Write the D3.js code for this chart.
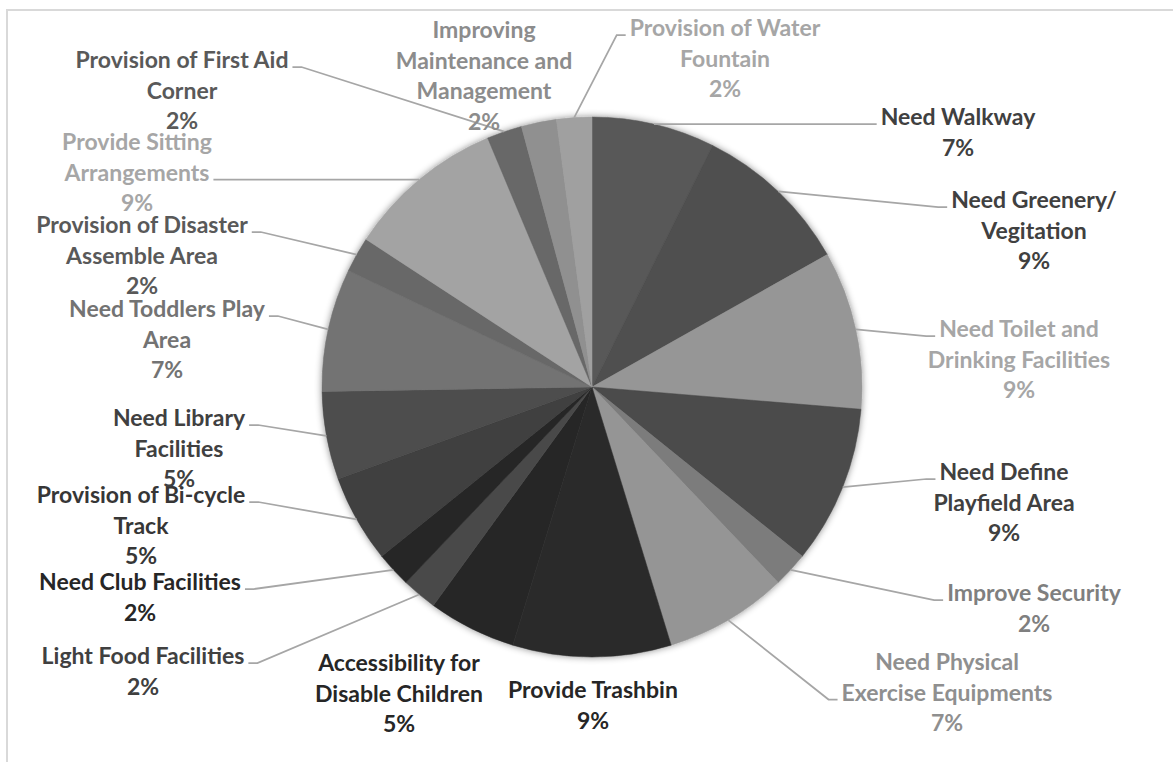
<!DOCTYPE html>
<html>
<head>
<meta charset="utf-8">
<script src="https://cdn.jsdelivr.net/npm/d3@7"></script>
<style>
  body { margin: 0; background: #fff; }
  svg { display: block; font-family: Lato, "Open Sans", sans-serif; font-weight: bold; }
</style>
</head>
<body>
<div id="chart"></div>
<script>
// categories, clockwise from 12 o'clock ("\n" = line break in the label)
var categories = [
  "Need Walkway", "Need Greenery/\nVegitation", "Need Toilet and\nDrinking Facilities",
  "Need Define\nPlayfield Area", "Improve Security", "Need Physical\nExercise Equipments",
  "Provide Trashbin", "Accessibility for\nDisable Children", "Light Food Facilities",
  "Need Club Facilities", "Provision of Bi-cycle\nTrack", "Need Library\nFacilities",
  "Need Toddlers Play\nArea", "Provision of Disaster\nAssemble Area", "Provide Sitting\nArrangements",
  "Provision of First Aid\nCorner", "Improving\nMaintenance and\nManagement", "Provision of Water\nFountain"
];
// percentages as printed on the chart
var percents = [7, 9, 9, 9, 2, 7, 9, 5, 2, 2, 5, 5, 7, 2, 9, 2, 2, 2];

var sliceColours = [
  "#595959", "#4f4f4f", "#969696", "#4b4b4b", "#7c7c7c", "#959595",
  "#2c2c2c", "#282828", "#4a4a4a", "#262626", "#3f3f3f", "#4d4d4d",
  "#737373", "#686868", "#a3a3a3", "#676767", "#909090", "#a0a0a0"
];
var labelColours = [
  "#404040", "#404040", "#a6a6a6", "#404040", "#7f7f7f", "#8f8f8f",
  "#262626", "#262626", "#404040", "#262626", "#363636", "#404040",
  "#737373", "#595959", "#a6a6a6", "#595959", "#8c8c8c", "#a6a6a6"
];
// label layout: centre x, middle of first line, line the leader joins (-1 none)
var labelX = [958, 1034, 1019, 1004, 1034, 947, 593, 399, 143, 140, 141, 179, 167, 142, 137, 182, 484, 725];
var labelY = [117, 200, 329, 472, 593, 662, 690, 663, 656, 582, 495, 418, 309, 225, 142, 60, 30, 28];
var leaderLine = [0, 0, 0, 0, 0, 1, -1, -1, 0, 0, 0, 0, 0, 0, 1, 0, -1, 0];

var width = 1173, height = 762;
var cx = 592, cy = 387, radius = 270;
var fontSize = 23, lineGap = 30.5;

var data = categories.map(function (c, i) {
  return { name: c, value: percents[i], i: i };
});

var svg = d3.select('#chart')
  .append('svg')
  .attr('width', width)
  .attr('height', height)
  .attr('viewBox', '0 0 ' + width + ' ' + height);

// chart area border (only top and left edges are inside the picture)
svg.append('rect')
  .attr('x', 7).attr('y', 10)
  .attr('width', 1200).attr('height', 800)
  .style('fill', 'none')
  .style('stroke', '#d9d9d9')
  .style('stroke-width', 2);

var defs = svg.append('defs');
var shadow = defs.append('filter')
  .attr('id', 'shadow')
  .attr('x', '-10%').attr('y', '-10%')
  .attr('width', '120%').attr('height', '120%');
shadow.append('feDropShadow')
  .attr('dx', 0).attr('dy', 0)
  .attr('stdDeviation', 3.5)
  .attr('flood-color', '#000')
  .attr('flood-opacity', 0.45);

var pie = d3.pie().sort(null).value(function (d) { return d.value; });
var arcs = pie(data);

var arc = d3.arc().innerRadius(0).outerRadius(radius);
var rim = d3.arc().innerRadius(radius).outerRadius(radius);

var colour = d3.scaleOrdinal().domain(d3.range(data.length)).range(sliceColours);

var g = svg.append('g').attr('transform', 'translate(' + cx + ',' + cy + ')');

g.append('g')
  .attr('filter', 'url(#shadow)')
  .selectAll('path')
  .data(arcs)
  .enter().append('path')
  .attr('d', arc)
  .style('fill', function (d) { return colour(d.data.i); })
  .style('stroke', function (d) { return colour(d.data.i); })
  .style('stroke-width', 0.5);

var lineLayer = svg.append('g');
var textLayer = svg.append('g');

arcs.forEach(function (d) {
  var i = d.data.i;
  var lines = d.data.name.split('\n').concat([percents[i] + '%']);
  var text = textLayer.append('text')
    .attr('text-anchor', 'middle')
    .style('font-size', fontSize + 'px')
    .style('fill', labelColours[i]);
  var spans = lines.map(function (l, k) {
    return text.append('tspan')
      .attr('x', labelX[i])
      .attr('y', labelY[i] + 8 + k * lineGap)
      .text(l);
  });

  var li = leaderLine[i];
  if (li < 0) return;
  var w = spans[li].node().getComputedTextLength();
  var right = labelX[i] > cx;
  var ax = right ? labelX[i] - w / 2 - 4 : labelX[i] + w / 2 + 4;
  var ay = labelY[i] + 7 + li * lineGap;
  var ex = right ? ax - 9 : ax + 9;
  var p = rim.centroid(d);
  lineLayer.append('path')
    .attr('d', 'M' + (cx + p[0]) + ',' + (cy + p[1]) + 'L' + ex + ',' + ay + 'L' + ax + ',' + ay)
    .style('fill', 'none')
    .style('stroke', '#a6a6a6')
    .style('stroke-width', 1.75);
});
</script>
</body>
</html>
